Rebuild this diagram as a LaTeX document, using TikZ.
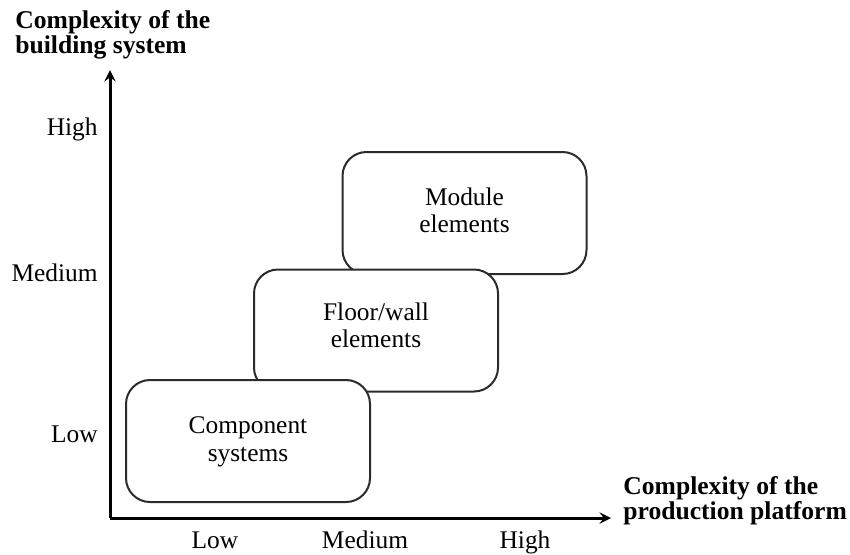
\documentclass[tikz,border=0pt]{standalone}
\usepackage{fontspec}
\setmainfont{Liberation Serif}
\usepackage{xcolor}
\usepackage{tikz}
\usetikzlibrary{arrows,positioning,calc}
\definecolor{boxline}{HTML}{2B2B2B}

\begin{document}
\begin{tikzpicture}[x=0.5pt,y=-0.5pt,>=stealth,
  level box/.style={draw=boxline, line width=1pt, fill=white, rounded corners=12pt,
    minimum width=122pt, minimum height=61pt, align=center,
    font=\fontsize{12.7}{13.6}\selectfont},
  tick label/.style={font=\fontsize{12.7}{14}\selectfont, text height=8.5pt, text depth=0pt},
  axis title/.style={align=left, font=\fontsize{12.8}{12.6}\selectfont\bfseries}]
\useasboundingbox (0,0) rectangle (850,554);
% axes
\coordinate (origin) at (110,518);
\coordinate (ytop) at (110,70);
\coordinate (xend) at (611,518);
\draw[->, line width=1.5pt] (origin) -- (ytop);
\draw[->, line width=1.5pt] (origin) -- (xend);
\node[axis title, anchor=north west, inner sep=0pt] (ytitle) at (15,10) {Complexity of the\\building system};
\node[axis title, anchor=north west, inner sep=0pt] (xtitle) at (623,476) {Complexity of the\\production platform};
% tick labels
\node[tick label, anchor=east, inner sep=0pt] (yhigh) at (98,127) {High};
\node[tick label, anchor=east, inner sep=0pt] (ymed) at (98,273) {Medium};
\node[tick label, anchor=east, inner sep=0pt] (ylow) at (98,434) {Low};
\node[tick label] (xlow) at (215,540) {Low};
\node[tick label] (xmed) at (365,540) {Medium};
\node[tick label] (xhigh) at (525,540) {High};
% boxes, back to front
\node[level box] (module) at (464.5,213) {Module\\elements\\[-10.6pt]};
\node[level box] (floor) at (376,330.5) {Floor/wall\\elements\\[-8pt]};
\node[level box] (comp) at (248,441) {Component\\systems\\[-11.6pt]};
\end{tikzpicture}
\end{document}
